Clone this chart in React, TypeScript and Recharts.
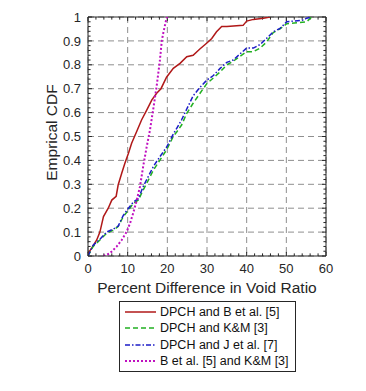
import React from 'react';
import {
  LineChart,
  Line,
  XAxis,
  YAxis,
  CartesianGrid,
  ReferenceLine,
  Legend,
} from 'recharts';

const dpchB: [number, number][] = [
  [0, 0.01], [1.0, 0.035], [2.2, 0.067], [3.0, 0.1], [3.9, 0.165], [5.1, 0.2],
  [6.0, 0.234], [7.1, 0.25], [7.6, 0.297], [8.5, 0.346], [9.3, 0.388], [10.2, 0.43],
  [11.0, 0.472], [12.3, 0.522], [13.5, 0.569], [14.8, 0.61], [16.1, 0.653],
  [17.3, 0.681], [18.4, 0.7], [19.8, 0.748], [21.5, 0.785], [23.2, 0.806],
  [24.9, 0.834], [26.5, 0.84], [28.2, 0.866], [29.9, 0.89], [31.2, 0.91],
  [32.4, 0.938], [33.7, 0.96], [35.0, 0.96], [39.1, 0.965], [40.0, 0.983],
  [41.7, 0.99], [44.2, 0.995], [45.9, 1.0],
];

const dpchKM: [number, number][] = [
  [0, 0], [1.3, 0.04], [3.0, 0.067], [4.7, 0.095], [6.4, 0.109], [7.6, 0.123],
  [8.9, 0.165], [10.2, 0.192], [11.4, 0.22], [12.7, 0.234], [13.9, 0.276],
  [14.8, 0.304], [16.5, 0.36], [18.1, 0.4], [19.8, 0.444], [21.5, 0.5],
  [22.4, 0.52], [23.6, 0.548], [24.9, 0.597], [26.5, 0.639], [28.2, 0.68],
  [29.9, 0.72], [31.6, 0.745], [33.3, 0.77], [35.0, 0.8], [36.6, 0.815],
  [38.3, 0.835], [40.0, 0.855], [41.7, 0.855], [43.4, 0.87], [45.0, 0.895],
  [46.7, 0.935], [48.4, 0.95], [50.1, 0.972], [52.0, 0.975], [55.1, 0.98],
  [56.4, 1.0],
];

const dpchJ: [number, number][] = [
  [0, 0], [1.3, 0.045], [3.0, 0.07], [4.7, 0.1], [6.4, 0.113], [7.6, 0.125],
  [8.9, 0.17], [10.2, 0.2], [11.4, 0.225], [12.7, 0.24], [13.9, 0.29],
  [14.8, 0.32], [16.5, 0.375], [18.1, 0.415], [19.8, 0.455], [21.5, 0.51],
  [22.4, 0.535], [23.6, 0.57], [24.9, 0.615], [26.5, 0.67], [28.2, 0.705],
  [29.9, 0.735], [31.6, 0.755], [33.3, 0.785], [35.0, 0.81], [36.6, 0.82],
  [38.3, 0.845], [40.0, 0.87], [41.7, 0.87], [43.4, 0.885], [45.0, 0.91],
  [46.7, 0.938], [48.4, 0.952], [50.1, 0.98], [51.8, 0.983], [54.3, 0.987],
  [55.1, 0.995], [56.4, 1.0],
];

const bKM: [number, number][] = [
  [3.9, 0], [5.5, 0.011], [7.2, 0.039], [8.5, 0.067], [9.7, 0.1], [10.6, 0.137],
  [11.4, 0.18], [12.3, 0.234], [13.1, 0.29], [13.9, 0.374], [14.8, 0.457],
  [15.6, 0.525], [16.5, 0.62], [17.3, 0.71], [18.1, 0.815], [18.6, 0.9],
  [19.0, 0.935], [19.8, 0.995], [20.0, 1.0],
];

const xTicks = [0, 10, 20, 30, 40, 50, 60];
const yTicks = [0, 0.1, 0.2, 0.3, 0.4, 0.5, 0.6, 0.7, 0.8, 0.9, 1];
const xMinor = Array.from({ length: 31 }, (_, i) => i * 2);
const yMinor = Array.from({ length: 51 }, (_, i) => +(i * 0.02).toFixed(2));

const series = [
  { name: 'DPCH and B et al. [5]', data: dpchB, color: '#b01818', dash: undefined, width: 1.5 },
  { name: 'DPCH and K&M [3]', data: dpchKM, color: '#22b022', dash: '5 3', width: 1.5 },
  { name: 'DPCH and J et al. [7]', data: dpchJ, color: '#1c1cc8', dash: '5 2 1.5 2', width: 1.5 },
  { name: 'B et al. [5] and K&M [3]', data: bKM, color: '#c010c0', dash: '2 2', width: 2 },
];

const toRows = (pts: [number, number][]) => pts.map(([x, y]) => ({ x, y }));

const FONT = '"Liberation Sans", Arial, sans-serif';
const AXIS = '#262626';

const YLabel = ({ viewBox }: any) => {
  const cx = 57;
  const cy = viewBox.y + viewBox.height / 2 - 4;
  return (
    <text
      x={cx}
      y={cy}
      transform={`rotate(-90, ${cx}, ${cy})`}
      textAnchor="middle"
      fontSize={15.5}
      fontFamily={FONT}
      fill={AXIS}
    >
      Emprical CDF
    </text>
  );
};

const LegendBox = () => (
  <div
    style={{
      border: `1px solid ${AXIS}`,
      background: '#fff',
      padding: '2px 0 2px 5px',
      fontFamily: FONT,
      fontSize: 12.5,
      color: '#111',
      boxSizing: 'border-box',
      width: 177,
    }}
  >
    {series.map((s) => (
      <div key={s.name} style={{ display: 'flex', alignItems: 'center', height: 16.3 }}>
        <svg width={32} height={6} style={{ marginRight: 3 }}>
          <line x1={0} y1={3} x2={31} y2={3} stroke={s.color} strokeWidth={s.width} strokeDasharray={s.dash} />
        </svg>
        <span style={{ whiteSpace: 'nowrap' }}>{s.name}</span>
      </div>
    ))}
  </div>
);

export default function App() {
  return (
    <div style={{ position: 'absolute', left: 0, top: 0, width: 366, height: 391, background: '#fff' }}>
      <LineChart width={366} height={391} margin={{ top: 17, right: 40, bottom: 95, left: 0 }}>
        <CartesianGrid stroke="#8f8f8f" strokeDasharray="6 4" horizontalPoints={undefined} />
        <XAxis
          dataKey="x"
          type="number"
          domain={[0, 60]}
          ticks={xTicks}
          allowDataOverflow
          height={40}
          tickLine={false}
          tickSize={4}
          tickMargin={4}
          axisLine={{ stroke: AXIS }}
          tick={{ fontSize: 13, fontFamily: FONT, fill: AXIS }}
          label={{
            value: 'Percent Difference in Void Ratio',
            position: 'insideBottom',
            offset: 3,
            fontSize: 15.5,
            fontFamily: FONT,
            fill: AXIS,
          }}
        />
        <YAxis
          type="number"
          domain={[0, 1]}
          ticks={yTicks}
          allowDataOverflow
          width={88}
          tickLine={false}
          tickSize={3}
          tickMargin={4}
          axisLine={{ stroke: AXIS }}
          tick={{ fontSize: 13, fontFamily: FONT, fill: AXIS }}
          label={<YLabel />}
        />
        <ReferenceLine y={1} stroke={AXIS} />
        <ReferenceLine x={60} stroke={AXIS} />
        {xMinor.map((v) => {
          const len = v % 10 === 0 ? 0.017 : 0.011;
          return (
            <React.Fragment key={`xm${v}`}>
              <ReferenceLine segment={[{ x: v, y: 0 }, { x: v, y: len }]} stroke={AXIS} />
              <ReferenceLine segment={[{ x: v, y: 1 }, { x: v, y: 1 - len }]} stroke={AXIS} />
            </React.Fragment>
          );
        })}
        {yMinor.map((v, i) => {
          const len = i % 5 === 0 ? 1.0 : 0.65;
          return (
            <React.Fragment key={`ym${i}`}>
              <ReferenceLine segment={[{ x: 0, y: v }, { x: len, y: v }]} stroke={AXIS} />
              <ReferenceLine segment={[{ x: 60, y: v }, { x: 60 - len, y: v }]} stroke={AXIS} />
            </React.Fragment>
          );
        })}
        {series.map((s) => (
          <Line
            key={s.name}
            name={s.name}
            data={toRows(s.data)}
            dataKey="y"
            type="linear"
            stroke={s.color}
            strokeWidth={s.width}
            strokeDasharray={s.dash}
            dot={false}
            activeDot={false}
            isAnimationActive={false}
          />
        ))}
        <Legend
          layout="vertical"
          align="center"
          verticalAlign="middle"
          wrapperStyle={{ left: 119, top: 301, width: 177 }}
          content={<LegendBox />}
        />
      </LineChart>
    </div>
  );
}
